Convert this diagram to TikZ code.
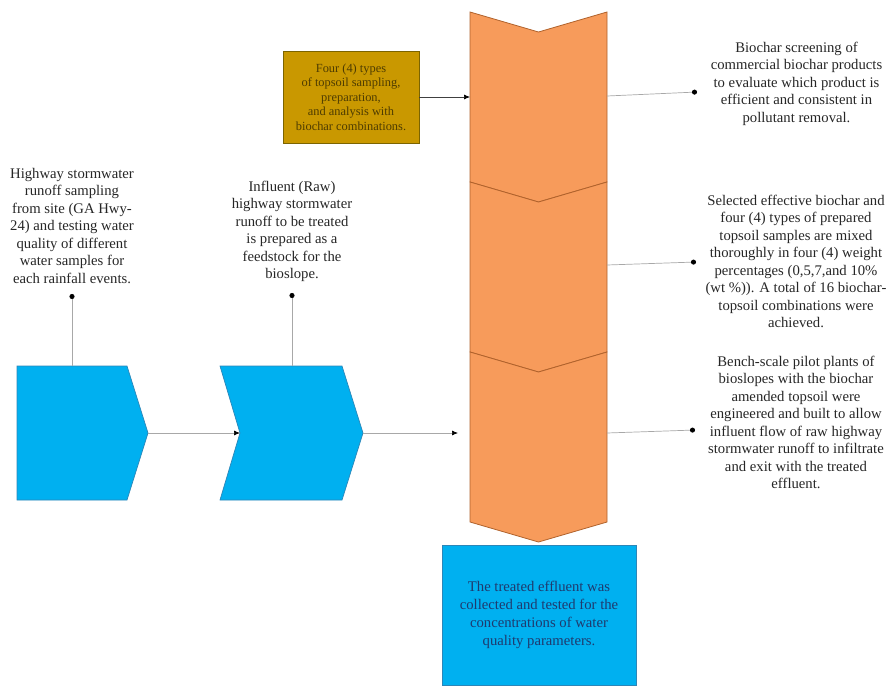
\documentclass[tikz,border=0pt]{standalone}
\usepackage{fontspec}
\setmainfont{Liberation Serif}
\usepackage{xcolor}
\usetikzlibrary{arrows.meta, positioning}

\definecolor{stageblue}{HTML}{00B0F0}
\definecolor{stageedge}{HTML}{2C86B8}
\definecolor{chevfill}{HTML}{F79B5B}
\definecolor{chevedge}{HTML}{B0622C}
\definecolor{soilfill}{HTML}{C99800}
\definecolor{soiledge}{HTML}{7C6400}
\definecolor{soiltext}{HTML}{4E3C00}
\definecolor{outtext}{HTML}{1F3A6E}
\definecolor{notegray}{HTML}{262626}
\definecolor{linegray}{HTML}{A8A8A8}

\begin{document}
\begin{tikzpicture}[
    x=1pt, y=-1pt,
    stage/.style={draw=stageedge, fill=stageblue, line width=0.7pt},
    chevron/.style={draw=chevedge, fill=chevfill, line width=0.8pt},
    note/.style={align=center, inner sep=0pt, text=notegray, font=\fontsize{14.7}{17.5}\selectfont},
    soilbox/.style={rectangle, draw=soiledge, fill=soilfill, line width=0.8pt, minimum width=136pt, minimum height=92pt, align=center, inner sep=0pt, text=soiltext, font=\fontsize{12.4}{14.4}\selectfont},
    outbox/.style={rectangle, draw=stageedge, fill=stageblue, line width=0.7pt, minimum width=194pt, minimum height=140pt, align=center, inner sep=0pt, text=outtext, font=\fontsize{14.7}{18}\selectfont},
    % connectors
    link/.style={draw=linegray, line width=0.7pt, -{Circle[length=5pt, color=black]}},
    flow/.style={draw=linegray, line width=0.7pt, -{Latex[length=6pt, width=5pt, color=black]}},
    feed/.style={draw=black!75, line width=0.7pt, -{Latex[length=6pt, width=5pt, color=black]}}
]

\useasboundingbox (0,0) rectangle (886,686);

% Blue stages (left)
\draw[stage] (17,366) -- (127,366) -- (148,433) -- (127,500) -- (17,500) -- cycle;
\draw[stage] (220,366) -- (342,366) -- (363,433) -- (342,500) -- (220,500) -- (240,433) -- cycle;
\coordinate (s1top) at (72,366);
\coordinate (s1tip) at (148,433);
\coordinate (s2top) at (292,366);
\coordinate (s2in) at (240,433);
\coordinate (s2tip) at (363,433);

% Orange column
\foreach \t in {12,182,352}
    \draw[chevron] (470,\t) -- (538.5,\t+20) -- (607,\t) -- (607,\t+170) -- (538.5,\t+190) -- (470,\t+170) -- cycle;
\coordinate (c1in) at (470,97);
\coordinate (c3in) at (458,433);
\coordinate (c1out) at (607,96);
\coordinate (c2out) at (607,265);
\coordinate (c3out) at (607,433);

% Texts
\node[note] (sampling) at (72,225.5) {Highway stormwater\\runoff sampling\\from site (GA Hwy-\\24) and testing water\\quality of different\\water samples for\\each rainfall events.};
\node[note] (influent) at (292,231.5) {Influent (Raw)\\highway stormwater\\runoff to be treated\\is prepared as a\\feedstock for the\\bioslope.};
\node[note] (screening) at (796.5,83.5) {Biochar screening of\\commercial biochar products\\to evaluate which product is\\efficient and consistent in\\pollutant removal.};
\node[note] (mixing) at (796,261.5) {Selected effective biochar and\\four (4) types of prepared\\topsoil samples are mixed\\thoroughly in four (4) weight\\percentages (0,5,7,and 10\%\\(wt \%)). A total of 16 biochar-\\topsoil combinations were\\achieved.};
\node[note] (pilot) at (796,422.5) {Bench-scale pilot plants of\\bioslopes with the biochar\\amended topsoil were\\engineered and built to allow\\influent flow of raw highway\\stormwater runoff to infiltrate\\and exit with the treated\\effluent.};

\node[soilbox] (soil) at (351,97) {Four (4) types\\of topsoil sampling,\\preparation,\\and analysis with\\biochar combinations.};
\node[outbox] (effluent) at (539,615) {The treated effluent was\\collected and tested for the\\concentrations of water\\quality parameters.};

% Dots near the texts
\coordinate (d1) at (72,294);
\coordinate (d2) at (292,293);
\coordinate (d3) at (697,92);
\coordinate (d4) at (696,262);
\coordinate (d5) at (695,430);

% Connectors
\draw[link] (s1top) -- (d1);
\draw[link] (s2top) -- (d2);
\draw[flow] (s1tip) -- (s2in);
\draw[flow] (s2tip) -- (c3in);
\draw[feed] (soil.east) -- (c1in);
\draw[link] (c1out) -- (d3);
\draw[link] (c2out) -- (d4);
\draw[link] (c3out) -- (d5);

\end{tikzpicture}
\end{document}
